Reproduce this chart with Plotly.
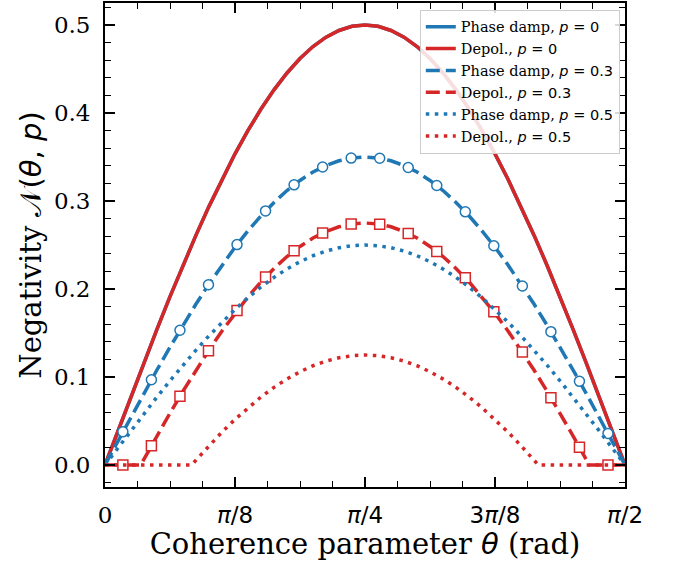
import math
import plotly.graph_objects as go

# ---------------- data ----------------
# common theta grid (rad), k*pi/80, k = 0..40
theta = [0.0000, 0.0393, 0.0785, 0.1178, 0.1571, 0.1963, 0.2356, 0.2749, 0.3142, 0.3534,
         0.3927, 0.4320, 0.4712, 0.5105, 0.5498, 0.5890, 0.6283, 0.6676, 0.7069, 0.7461,
         0.7854, 0.8247, 0.8639, 0.9032, 0.9425, 0.9817, 1.0210, 1.0603, 1.0996, 1.1388,
         1.1781, 1.2174, 1.2566, 1.2959, 1.3352, 1.3744, 1.4137, 1.4530, 1.4923, 1.5315,
         1.5708]

neg_p0 = [0.0000, 0.0392, 0.0782, 0.1167, 0.1545, 0.1913, 0.2270, 0.2612, 0.2939, 0.3247,
          0.3536, 0.3802, 0.4045, 0.4263, 0.4455, 0.4619, 0.4755, 0.4862, 0.4938, 0.4985,
          0.5000, 0.4985, 0.4938, 0.4862, 0.4755, 0.4619, 0.4455, 0.4263, 0.4045, 0.3802,
          0.3536, 0.3247, 0.2939, 0.2612, 0.2270, 0.1913, 0.1545, 0.1167, 0.0782, 0.0392,
          0.0000]

phase_p03 = [0.0000, 0.0275, 0.0548, 0.0817, 0.1082, 0.1339, 0.1589, 0.1829, 0.2057, 0.2273,
             0.2475, 0.2661, 0.2832, 0.2984, 0.3119, 0.3234, 0.3329, 0.3403, 0.3457, 0.3489,
             0.3500, 0.3489, 0.3457, 0.3403, 0.3329, 0.3234, 0.3119, 0.2984, 0.2832, 0.2661,
             0.2475, 0.2273, 0.2057, 0.1829, 0.1589, 0.1339, 0.1082, 0.0817, 0.0548, 0.0275,
             0.0000]

phase_p05 = [0.0000, 0.0196, 0.0391, 0.0584, 0.0773, 0.0957, 0.1135, 0.1306, 0.1469, 0.1624,
             0.1768, 0.1901, 0.2023, 0.2132, 0.2228, 0.2310, 0.2378, 0.2431, 0.2469, 0.2492,
             0.2500, 0.2492, 0.2469, 0.2431, 0.2378, 0.2310, 0.2228, 0.2132, 0.2023, 0.1901,
             0.1768, 0.1624, 0.1469, 0.1306, 0.1135, 0.0957, 0.0773, 0.0584, 0.0391, 0.0196,
             0.0000]

# depolarising curves have kinks where they hit zero
theta_dep03 = [0.0000, 0.0393, 0.0785, 0.1080, 0.1178, 0.1571, 0.1963, 0.2356, 0.2749, 0.3142,
               0.3534, 0.3927, 0.4320, 0.4712, 0.5105, 0.5498, 0.5890, 0.6283, 0.6676, 0.7069,
               0.7461, 0.7854, 0.8247, 0.8639, 0.9032, 0.9425, 0.9817, 1.0210, 1.0603, 1.0996,
               1.1388, 1.1781, 1.2174, 1.2566, 1.2959, 1.3352, 1.3744, 1.4137, 1.4530, 1.4628,
               1.4923, 1.5315, 1.5708]
depol_p03 = [0.0000, 0.0000, 0.0000, 0.0000, 0.0067, 0.0332, 0.0589, 0.0839, 0.1079, 0.1307,
             0.1523, 0.1725, 0.1911, 0.2082, 0.2234, 0.2369, 0.2484, 0.2579, 0.2653, 0.2707,
             0.2739, 0.2750, 0.2739, 0.2707, 0.2653, 0.2579, 0.2484, 0.2369, 0.2234, 0.2082,
             0.1911, 0.1725, 0.1523, 0.1307, 0.1079, 0.0839, 0.0589, 0.0332, 0.0067, 0.0000,
             0.0000, 0.0000, 0.0000]

theta_dep05 = [0.0000, 0.0393, 0.0785, 0.1178, 0.1571, 0.1963, 0.2356, 0.2618, 0.2749, 0.3142,
               0.3534, 0.3927, 0.4320, 0.4712, 0.5105, 0.5498, 0.5890, 0.6283, 0.6676, 0.7069,
               0.7461, 0.7854, 0.8247, 0.8639, 0.9032, 0.9425, 0.9817, 1.0210, 1.0603, 1.0996,
               1.1388, 1.1781, 1.2174, 1.2566, 1.2959, 1.3090, 1.3352, 1.3744, 1.4137, 1.4530,
               1.4923, 1.5315, 1.5708]
depol_p05 = [0.0000, 0.0000, 0.0000, 0.0000, 0.0000, 0.0000, 0.0000, 0.0000, 0.0056, 0.0219,
             0.0374, 0.0518, 0.0651, 0.0773, 0.0882, 0.0978, 0.1060, 0.1128, 0.1181, 0.1219,
             0.1242, 0.1250, 0.1242, 0.1219, 0.1181, 0.1128, 0.1060, 0.0978, 0.0882, 0.0773,
             0.0651, 0.0518, 0.0374, 0.0219, 0.0056, 0.0000, 0.0000, 0.0000, 0.0000, 0.0000,
             0.0000, 0.0000, 0.0000]

# marker positions on the p = 0.3 curves
theta_mk = [0.0540, 0.1402, 0.2264, 0.3126, 0.3988, 0.4850, 0.5712, 0.6574, 0.7436,
            0.8298, 0.9160, 1.0022, 1.0884, 1.1746, 1.2608, 1.3470, 1.4332, 1.5194]
phase_mk = [0.0377, 0.0969, 0.1531, 0.2048, 0.2505, 0.2887, 0.3184, 0.3386, 0.3488,
            0.3486, 0.3381, 0.3176, 0.2877, 0.2492, 0.2034, 0.1515, 0.0951, 0.0359]
depol_mk = [0.0000, 0.0219, 0.0781, 0.1298, 0.1755, 0.2137, 0.2434, 0.2636, 0.2738,
            0.2736, 0.2631, 0.2426, 0.2127, 0.1742, 0.1284, 0.0765, 0.0201, 0.0000]

xtick_vals = [0, math.pi / 8, math.pi / 4, 3 * math.pi / 8, math.pi / 2]
SANS = 'font-family:DejaVu Sans'
xtick_text = ['0',
              f'<span style="{SANS}"><i>π</i>/8</span>',
              f'<span style="{SANS}"><i>π</i>/4</span>',
              f'<span style="{SANS}">3<i>π</i>/8</span>',
              f'<span style="{SANS}"><i>π</i>/2</span>']

BLUE = '#1f77b4'
RED = '#d62728'
DASH = '14px,6px'
DOT = '3.5px,5.5px'
LW = 3.5


def lab(name, p):
    return f'{name}, <span style="{SANS}"><i>p</i></span> = <span style="{SANS}">{p}</span>'


fig = go.Figure()
fig.add_trace(go.Scatter(x=theta, y=neg_p0, mode='lines', name=lab('Phase damp', '0'),
                         line=dict(color=BLUE, width=LW)))
fig.add_trace(go.Scatter(x=theta, y=neg_p0, mode='lines', name=lab('Depol.', '0'),
                         line=dict(color=RED, width=LW)))
fig.add_trace(go.Scatter(x=theta, y=phase_p03, mode='lines', name=lab('Phase damp', '0.3'),
                         line=dict(color=BLUE, width=LW, dash=DASH)))
fig.add_trace(go.Scatter(x=theta_mk, y=phase_mk, mode='markers', showlegend=False,
                         marker=dict(symbol='circle', size=10, color='white',
                                     line=dict(color=BLUE, width=1.5))))
fig.add_trace(go.Scatter(x=theta_dep03, y=depol_p03, mode='lines', name=lab('Depol.', '0.3'),
                         line=dict(color=RED, width=LW, dash=DASH)))
fig.add_trace(go.Scatter(x=theta_mk, y=depol_mk, mode='markers', showlegend=False,
                         marker=dict(symbol='square', size=10, color='white',
                                     line=dict(color=RED, width=1.5))))
fig.add_trace(go.Scatter(x=theta, y=phase_p05, mode='lines', name=lab('Phase damp', '0.5'),
                         line=dict(color=BLUE, width=LW, dash=DOT)))
fig.add_trace(go.Scatter(x=theta_dep05, y=depol_p05, mode='lines', name=lab('Depol.', '0.5'),
                         line=dict(color=RED, width=LW, dash=DOT)))

axis_common = dict(showline=True, linecolor='black', linewidth=1.8, mirror='allticks',
                   ticks='inside', ticklen=10, tickwidth=1.5, tickcolor='black',
                   showgrid=False, zeroline=False,
                   tickfont=dict(family='DejaVu Serif', size=23, color='black'))

fig.update_xaxes(**axis_common, range=[0, math.pi / 2], tickmode='array',
                 tickvals=xtick_vals, ticktext=xtick_text,
                 minor=dict(ticks='inside', ticklen=6, tickwidth=1.2, tickcolor='black',
                            tick0=0, dtick=math.pi / 32, showgrid=False),
                 ticklabelstandoff=6,
                 title=dict(text=f'Coherence parameter <span style="{SANS}"><i>θ</i></span> (rad)',
                            font=dict(family='DejaVu Serif', size=29, color='black'),
                            standoff=6))
fig.update_yaxes(**axis_common, range=[-0.025, 0.525], tick0=0, dtick=0.1, tickformat='.1f',
                 minor=dict(ticks='inside', ticklen=6, tickwidth=1.2, tickcolor='black',
                            tick0=0, dtick=0.02, showgrid=False),
                 ticklabelstandoff=8,
                 title=dict(text=f'Negativity <span style="{SANS}">𝒩(<i>θ</i>, <i>p</i>)</span>',
                            font=dict(family='DejaVu Serif', size=29, color='black'),
                            standoff=4))

fig.update_layout(width=678, height=565, plot_bgcolor='white', paper_bgcolor='white',
                  margin=dict(l=105, r=53, t=1, b=78),
                  legend=dict(x=0.99, y=0.986, xanchor='right', yanchor='top',
                              bgcolor='rgba(255,255,255,0.85)', bordercolor='#cccccc',
                              borderwidth=1,
                              font=dict(family='DejaVu Serif', size=14.5, color='black')))

fig.write_html('out.html')
